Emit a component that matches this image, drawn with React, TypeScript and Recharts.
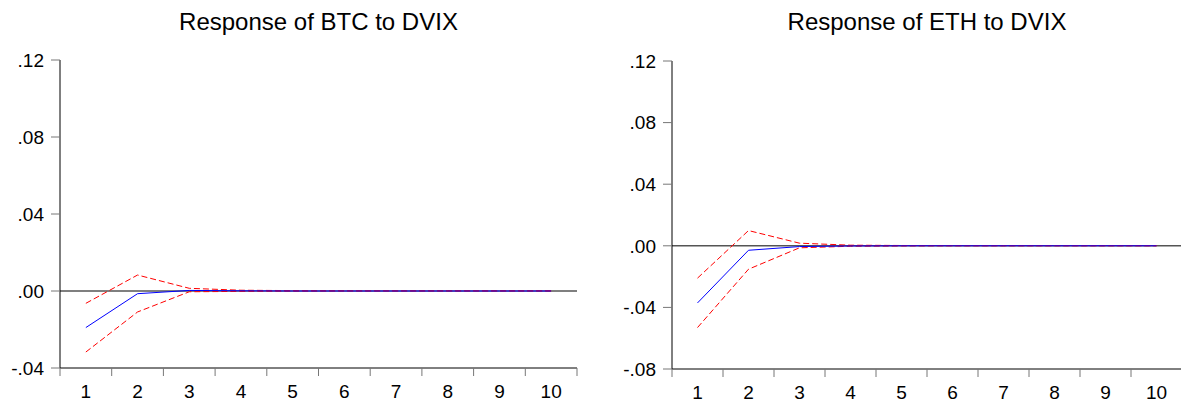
import React from "react";
import { LineChart, Line, XAxis, YAxis, ReferenceLine } from "recharts";

const periods = [1, 2, 3, 4, 5, 6, 7, 8, 9, 10];

const btcResponse = [-0.019, -0.0014, 0.0003, 0.0001, 0.0, 0.0, 0.0, 0.0, 0.0, 0.0];
const btcUpper = [-0.0064, 0.0083, 0.0014, 0.0004, 0.0002, 0.0001, 0.0001, 0.0001, 0.0001, 0.0001];
const btcLower = [-0.0317, -0.0109, -0.0004, -0.0002, -0.0001, 0.0, 0.0, 0.0, 0.0, 0.0];

const ethResponse = [-0.0371, -0.0029, -0.0005, -0.0001, 0.0, 0.0, 0.0, 0.0, 0.0, 0.0];
const ethUpper = [-0.021, 0.0099, 0.0017, 0.0004, 0.0002, 0.0001, 0.0001, 0.0001, 0.0001, 0.0001];
const ethLower = [-0.0531, -0.0152, -0.0013, -0.0003, -0.0001, 0.0, 0.0, 0.0, 0.0, 0.0];

const btcTicks = [-0.04, 0, 0.04, 0.08, 0.12];
const ethTicks = [-0.08, -0.04, 0, 0.04, 0.08, 0.12];

// integer ticks carry the labels, half-way ticks carry the tick marks
const xTicks = [0.5, 1, 1.5, 2, 2.5, 3, 3.5, 4, 4.5, 5, 5.5, 6, 6.5, 7, 7.5, 8, 8.5, 9, 9.5, 10, 10.5];

const FONT = "'Liberation Sans', Arial, sans-serif";

const fmtY = (v: number) => {
  const s = Math.abs(v).toFixed(2).replace(/^0/, "");
  return v < 0 ? "-" + s : s;
};

const XTick = (props: any) => {
  const { x, y, payload } = props;
  if (Number.isInteger(payload.value)) {
    return (
      <text x={x} y={y + 30} textAnchor="middle" fontSize={19} fill="#000" fontFamily={FONT}>
        {payload.value}
      </text>
    );
  }
  return <line x1={x} x2={x} y1={y} y2={y + 8} stroke="#777" />;
};

const buildRows = (resp: number[], up: number[], lo: number[]) =>
  periods.map((p, i) => ({ period: p, resp: resp[i], upper: up[i], lower: lo[i] }));

type PanelProps = {
  title: string;
  rows: any[];
  ticks: number[];
  left: number;
  width: number;
  axisWidth: number;
  marginTop: number;
  axisHeight: number;
  marginRight: number;
};

const Panel = ({ title, rows, ticks, left, width, axisWidth, marginTop, axisHeight, marginRight }: PanelProps) => {
  const plotWidth = width - axisWidth - marginRight;
  return (
    <div style={{ position: "absolute", left, top: 0, width, height: 403 }}>
      <svg style={{ position: "absolute", left: 0, top: 0 }} width={width} height={40}>
        <text
          x={axisWidth + plotWidth / 2}
          y={29.5}
          textAnchor="middle"
          fontFamily={FONT}
          fontSize={24}
          fill="#000"
        >
          {title}
        </text>
      </svg>
      <LineChart
        width={width}
        height={403}
        data={rows}
        margin={{ top: marginTop, right: marginRight, bottom: 0, left: 0 }}
      >
        <XAxis
          dataKey="period"
          type="number"
          domain={[0.5, 10.5]}
          ticks={xTicks}
          interval={0}
          tickSize={0}
          tickMargin={0}
          tickLine={false}
          tick={<XTick />}
          axisLine={{ stroke: "#000" }}
          height={axisHeight}
        />
        <XAxis xAxisId="top" orientation="top" dataKey="period" type="number" domain={[0.5, 10.5]} tick={false} tickLine={false} axisLine={{ stroke: "#000" }} height={0} />
        <YAxis
          type="number"
          domain={[ticks[0], ticks[ticks.length - 1]]}
          ticks={ticks}
          interval={0}
          tickFormatter={fmtY}
          tickSize={9}
          tickMargin={7}
          tickLine={{ stroke: "#777" }}
          axisLine={{ stroke: "#000" }}
          tick={{ fill: "#000", fontSize: 19, fontFamily: FONT }}
          width={axisWidth}
        />
        <YAxis yAxisId="right" orientation="right" domain={[ticks[0], ticks[ticks.length - 1]]} tick={false} tickLine={false} axisLine={{ stroke: "#000" }} width={0} />
        <ReferenceLine y={0} stroke="#555" strokeWidth={1.5} />
        <Line dataKey="upper" stroke="#ff0000" strokeWidth={1} strokeDasharray="6 3" dot={false} isAnimationActive={false} />
        <Line dataKey="lower" stroke="#ff0000" strokeWidth={1} strokeDasharray="6 3" dot={false} isAnimationActive={false} />
        <Line dataKey="resp" stroke="#0000ff" strokeWidth={1} dot={false} isAnimationActive={false} />
      </LineChart>
    </div>
  );
};

export default function App() {
  return (
    <div style={{ position: "absolute", left: 0, top: 0, width: 1181, height: 403, overflow: "hidden", background: "#fff" }}>
      <Panel
        title="Response of BTC to DVIX"
        rows={buildRows(btcResponse, btcUpper, btcLower)}
        ticks={btcTicks}
        left={0}
        width={590}
        axisWidth={60}
        marginTop={60}
        axisHeight={35}
        marginRight={13}
      />
      <Panel
        title="Response of ETH to DVIX"
        rows={buildRows(ethResponse, ethUpper, ethLower)}
        ticks={ethTicks}
        left={590}
        width={600}
        axisWidth={82}
        marginTop={61}
        axisHeight={34}
        marginRight={8}
      />
    </div>
  );
}
